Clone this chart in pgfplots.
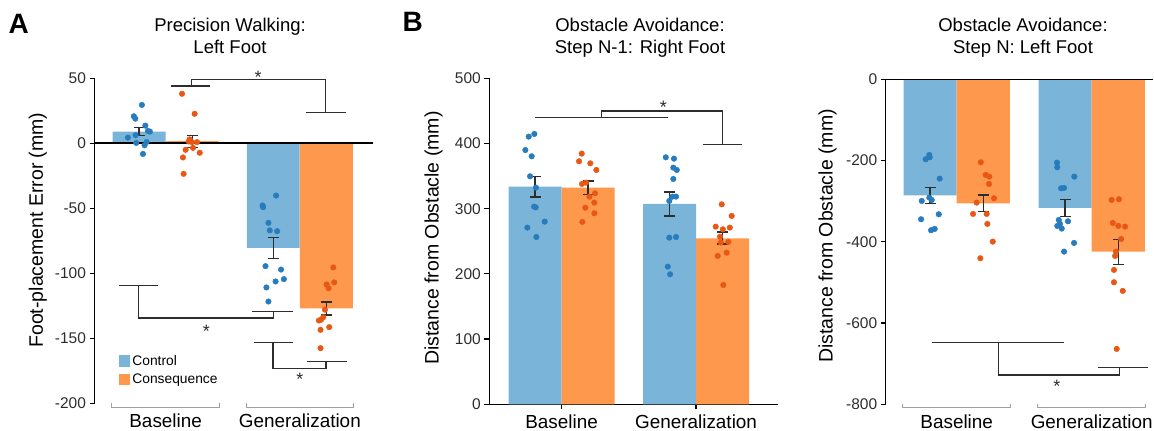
\documentclass[border=0pt]{standalone}
\usepackage{fontspec}
\setmainfont{Liberation Sans}
\usepackage{pgfplots}
\pgfplotsset{compat=1.18}
\definecolor{barblue}{RGB}{122,180,216}
\definecolor{barorange}{RGB}{253,152,77}
\definecolor{dotblue}{RGB}{38,124,190}
\definecolor{dotorange}{RGB}{232,88,20}
\definecolor{tickgray}{RGB}{45,45,45}
\definecolor{brgray}{RGB}{160,160,160}
\pgfplotsset{
  panel/.style={
    scale only axis, clip=false,
    tick align=outside,
    axis line style={line width=1.4pt, black},
    major tick length=5pt,
    every tick/.style={line width=1.2pt, black},
    /pgf/number format/assume math mode=true,
    yticklabel style={font=\fontsize{15.5}{18}\selectfont, color=tickgray},
    xticklabel style={font=\fontsize{18.9}{22}\selectfont, color=black, yshift=-1.5pt},
    xtick={0,1}, xticklabels={Baseline,Generalization},
  },
  ylab/.style 2 args={every axis y label/.style={at={(rel axis cs:#1,#2)}, anchor=base, rotate=90, font=\fontsize{19.5}{22}\selectfont}},
  barb/.style={ybar, bar width=0.394, bar shift=0pt, fill=barblue, draw=none},
  baro/.style={ybar, bar width=0.394, bar shift=0pt, fill=barorange, draw=none},
  dotb/.style={only marks, mark=*, mark size=2.8pt, color=dotblue, forget plot},
  doto/.style={only marks, mark=*, mark size=2.8pt, color=dotorange, forget plot},
  errb/.style={forget plot, draw=none, mark=none,
    error bars/.cd, y dir=both, y explicit,
    error bar style={draw=tickgray, line width=1.3pt},
    error mark options={draw=tickgray, line width=1.3pt, mark size=5.5pt, rotate=90}},
  sig/.style={forget plot, no marks, sharp plot, line width=1.3pt, color=tickgray},
  grb/.style={forget plot, no marks, sharp plot, line width=0.9pt, color=brgray},
}
\tikzset{star/.style={font=\fontsize{18}{20}\selectfont, anchor=center, yshift=-4pt, inner sep=0pt, text=tickgray}}
\begin{document}
\begin{tikzpicture}
\useasboundingbox (0,0) rectangle (1154pt,431pt);
% ---------------- Panel A ----------------
\begin{axis}[panel, at={(94.5pt,27.7pt)}, anchor=south west, width=278.5pt, height=325pt,
  xmin=-0.53, xmax=1.545, ymin=-200, ymax=50, ytick={-200,-150,...,50},
  axis y line*=left, axis x line*=bottom, x axis line style={draw=none}, xtick style={draw=none},
  ylabel={Foot-placement Error (mm)}, ylab={-0.185}{0.533},
  legend style={at={(axis cs:-0.351,-161.5)}, anchor=north west, draw=none, fill=none,
    font=\fontsize{13.8}{16}\selectfont, inner sep=0pt, row sep=3pt},
  legend cell align=left,
  legend image code/.code={\fill[#1] (0pt,-5.85pt) rectangle (11.7pt,5.85pt);},
]
\addplot[barb] coordinates {(-0.198,9) (0.802,-80.5)};
\addlegendentry{Control}
\addplot[baro] coordinates {(0.198,1.6) (1.198,-127)};
\addlegendentry{Consequence}
\draw[black, line width=1.8pt] (axis cs:-0.53,0) -- (axis cs:1.545,0);
\addplot[dotb] coordinates {(-0.177,29.5) (-0.237,20.8) (-0.226,19) (-0.151,13.6) (-0.132,9.5) (-0.117,9) (-0.281,4.4) (-0.224,6.2) (-0.219,0.3) (-0.157,-1.5) (-0.142,1) (-0.169,-8.2)
 (0.823,-40.2) (0.722,-47.8) (0.726,-49.1) (0.766,-61.2) (0.776,-67) (0.831,-67.6) (0.744,-94.5) (0.860,-97.1) (0.881,-104.5) (0.819,-106.3) (0.751,-110.9) (0.766,-121.7)};
\addplot[doto] coordinates {(0.122,38.1) (0.216,22.7) (0.172,1.4) (0.196,0.9) (0.234,0.9) (0.204,-3.5) (0.149,-5) (0.254,-7.3) (0.129,-10.9) (0.134,-23.5) (0.179,3)
 (1.249,-95.5) (1.256,-107) (1.199,-108.6) (1.214,-111.5) (1.187,-128) (1.174,-133.8) (1.157,-135.8) (1.142,-136.3) (1.219,-141.4) (1.154,-143.5) (1.154,-157.6)};
\addplot[errb] coordinates {(-0.198,9) += (0,3) -= (0,3) (0.198,1.6) += (0,4.4) -= (0,4.6) (0.802,-80.5) += (0,8.3) -= (0,7.9) (1.198,-127) += (0,5) -= (0,5)};
% significance brackets
\addplot[sig] coordinates {(0.043,44) (0.334,44)};
\addplot[sig] coordinates {(0.192,44) (0.192,49) (1.192,49) (1.192,23.5)};
\addplot[sig] coordinates {(1.045,23.5) (1.341,23.5)};
\node[star] at (axis cs:0.689,53.5) {*};
\addplot[sig] coordinates {(-0.349,-109.4) (-0.057,-109.4)};
\addplot[sig] coordinates {(-0.201,-109.4) (-0.201,-134.5) (0.806,-134.5) (0.806,-129.4)};
\addplot[sig] coordinates {(0.64,-129.4) (0.95,-129.4)};
\node[star] at (axis cs:0.304,-141.5) {*};
\addplot[sig] coordinates {(0.657,-153.2) (0.95,-153.2)};
\addplot[sig] coordinates {(0.80,-153.2) (0.80,-173) (1.194,-173) (1.194,-167.8)};
\addplot[sig] coordinates {(1.05,-167.8) (1.349,-167.8)};
\node[star] at (axis cs:1.0,-178.6) {*};
% group brackets
\addplot[grb] coordinates {(-0.4,-200) (-0.4,-203) (0.4,-203) (0.4,-200)};
\addplot[grb] coordinates {(0.6,-200) (0.6,-203) (1.4,-203) (1.4,-200)};
\end{axis}
% ---------------- Panel B ----------------
\begin{axis}[panel, at={(489.3pt,26.7pt)}, anchor=south west, width=288.4pt, height=326pt,
  xmin=-0.537, xmax=1.607, ymin=0, ymax=500, ytick={0,100,...,500},
  axis lines*=left,
  ylabel={Distance from Obstacle (mm)}, ylab={-0.1758}{0.510},
]
\addplot[barb] coordinates {(-0.197,333.8) (0.803,307.3)};
\addplot[baro] coordinates {(0.197,332.3) (1.197,254.6)};
\addplot[dotb] coordinates {(-0.202,414.6) (-0.244,410.5) (-0.269,390) (-0.222,380.4) (-0.234,349.7) (-0.190,332.3) (-0.204,303.2) (-0.192,302.1) (-0.125,280.2) (-0.254,271) (-0.187,256.6)
 (0.775,378.8) (0.836,376.8) (0.831,363) (0.857,359.4) (0.831,345.6) (0.824,318.5) (0.851,318.5) (0.801,311.9) (0.851,256.6) (0.801,255.6) (0.790,211.1) (0.807,199.4)};
\addplot[doto] coordinates {(0.150,384.5) (0.130,372.7) (0.214,369.6) (0.259,359.4) (0.152,338) (0.182,340) (0.249,323.6) (0.207,318.5) (0.244,309.3) (0.177,301.6) (0.244,293) (0.155,279.7)
 (1.191,306.7) (1.265,288.9) (1.146,272.5) (1.199,268.4) (1.251,271) (1.178,257) (1.240,249) (1.184,248) (1.228,232.6) (1.161,227.5) (1.203,183)};
\addplot[errb] coordinates {(-0.197,333.8) += (0,15.2) -= (0,15.8) (0.197,332.3) += (0,10.2) -= (0,10.3) (0.803,307.3) += (0,18.4) -= (0,18.4) (1.197,254.6) += (0,9.7) -= (0,8.7)};
\addplot[sig] coordinates {(-0.197,440) (0.794,440)};
\addplot[sig] coordinates {(0.299,440) (0.299,450) (1.198,450) (1.198,399)};
\addplot[sig] coordinates {(1.05,399) (1.344,399)};
\node[star] at (axis cs:0.757,461.7) {*};
\end{axis}
% ---------------- Panel C ----------------
\begin{axis}[panel, at={(885.7pt,26.7pt)}, anchor=south west, width=267.3pt, height=325pt,
  xmin=-0.526, xmax=1.454, ymin=-800, ymax=0, ytick={-800,-600,...,0},
  axis y line*=left, axis x line*=bottom, x axis line style={draw=none}, xtick style={draw=none},
  ylabel={Distance from Obstacle (mm)}, ylab={-0.1987}{0.518},
]
\addplot[barb] coordinates {(-0.197,-285.5) (0.803,-316.7)};
\addplot[baro] coordinates {(0.197,-305.2) (1.197,-424.1)};
\draw[black, line width=1.4pt] (axis cs:-0.526,0) -- (axis cs:1.454,0);
\addplot[dotb] coordinates {(-0.203,-186.2) (-0.230,-196.9) (-0.200,-192) (-0.126,-244.5) (-0.259,-299.4) (-0.203,-291.2) (-0.185,-297) (-0.133,-332.2) (-0.264,-344.5) (-0.163,-368.3) (-0.190,-371.6)
 (0.743,-205.1) (0.745,-216.6) (0.871,-239.5) (0.773,-268.3) (0.795,-267.4) (0.756,-346.2) (0.765,-356) (0.745,-361) (0.778,-367.5) (0.824,-349.5) (0.869,-402.8) (0.795,-424.1)};
\addplot[doto] coordinates {(0.178,-204.3) (0.215,-235.4) (0.241,-239.5) (0.239,-257.6) (0.276,-292.9) (0.148,-303.5) (0.121,-331.4) (0.222,-331.4) (0.227,-356) (0.267,-399.5) (0.175,-440.5)
 (1.148,-297) (1.202,-295.3) (1.156,-353.6) (1.197,-361) (1.247,-362.6) (1.218,-393) (1.180,-424.1) (1.173,-434.8) (1.165,-469.2) (1.165,-499.6) (1.230,-520.9) (1.185,-663.7)};
\addplot[errb] coordinates {(-0.197,-285.5) += (0,18.9) -= (0,19.7) (0.197,-305.2) += (0,20.5) -= (0,20.5) (0.803,-316.7) += (0,21.4) -= (0,21.3) (1.197,-424.1) += (0,30.3) -= (0,31.2)};
\addplot[sig] coordinates {(-0.185,-648) (0.795,-648)};
\addplot[sig] coordinates {(0.308,-648) (0.308,-727.6) (1.204,-727.6) (1.204,-709.6)};
\addplot[sig] coordinates {(1.049,-709.6) (1.415,-709.6)};
\node[star] at (axis cs:0.741,-744.8) {*};
\addplot[grb] coordinates {(-0.4,-800) (-0.4,-808) (0.4,-808) (0.4,-800)};
\addplot[grb] coordinates {(0.6,-800) (0.6,-808) (1.4,-808) (1.4,-800)};
\end{axis}
% ---------------- Titles and panel letters ----------------
\begin{scope}[every node/.style={anchor=base, inner sep=0pt, font=\fontsize{18.5}{22}\selectfont}]
\node at (230pt,399.3pt) {Precision Walking:};
\node at (230pt,377pt) {Left Foot};
\node at (640pt,399.3pt) {Obstacle Avoidance:};
\node at (640pt,377.7pt) {Step N-1: Right Foot};
\node at (1023pt,399.3pt) {Obstacle Avoidance:};
\node at (1023pt,377.7pt) {Step N: Left Foot};
\end{scope}
\node[anchor=base west, inner sep=0pt, font=\fontsize{28}{30}\selectfont\bfseries] at (8.5pt,397.7pt) {A};
\node[anchor=base west, inner sep=0pt, font=\fontsize{28}{30}\selectfont\bfseries] at (402.5pt,399pt) {B};
\end{tikzpicture}
\end{document}
